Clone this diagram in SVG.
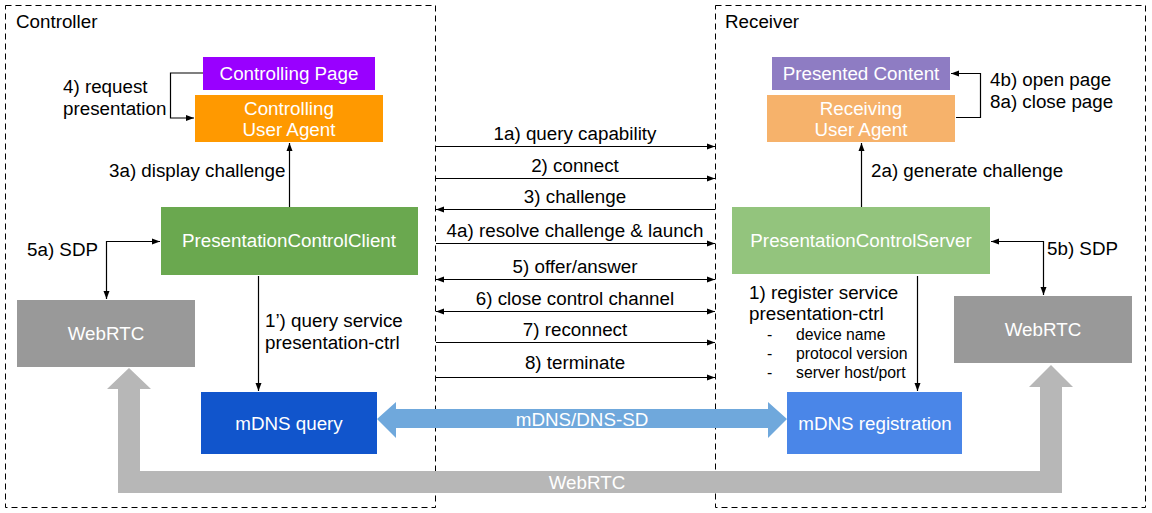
<svg xmlns="http://www.w3.org/2000/svg" width="1152" height="513" viewBox="0 0 1152 513">
<style>
text{font-family:"Liberation Sans",Arial,sans-serif;font-size:18.8px;fill:#000}
.w{fill:#fff}
.c{text-anchor:middle}
.s{font-size:15.8px}
.ln{fill:none;stroke:#000;stroke-width:1.2}
.box{fill:none;stroke:#000;stroke-width:1;stroke-dasharray:6,4}
</style>
<defs>
<marker id="ah" viewBox="0 0 8 8" refX="8" refY="4" markerWidth="8" markerHeight="8" markerUnits="userSpaceOnUse" orient="auto-start-reverse">
<path d="M0,1 L8,4 L0,7 Z" fill="#000"/>
</marker>
</defs>
<rect fill="#fff" width="1152" height="513"/>
<g id="controller">
<rect class="box" x="5.5" y="5.5" width="430" height="502"/>
<text x="16" y="28">Controller</text>
</g>
<g id="receiver">
<rect class="box" x="715.5" y="5.5" width="430" height="502"/>
<text x="725" y="28">Receiver</text>
</g>
<g id="webrtc-bar">
<path d="M118,389 L107,389 L129,368 L151,389 L140,389 L140,471 L1040,471 L1040,387 L1029,387 L1051,365 L1073,387 L1062,387 L1062,493 L118,493 Z" fill="#b7b7b7"/>
<text class="w c" x="587" y="489">WebRTC</text>
</g>
<g id="mdns-arrow">
<path d="M377,419 L396,402 L396,409 L768,409 L768,402 L787,419 L768,438 L768,428 L396,428 L396,438 Z" fill="#6fa8dc"/>
<text class="w c" x="582" y="426">mDNS/DNS-SD</text>
</g>
<g id="controlling-page">
<rect x="203" y="57" width="172" height="33" fill="#9900ff"/>
<text class="w c" x="289" y="80">Controlling Page</text>
</g>
<g id="controlling-ua">
<rect x="195" y="95" width="188" height="47" fill="#ff9900"/>
<text class="w c" x="289" y="115">Controlling</text>
<text class="w c" x="289" y="136">User Agent</text>
</g>
<g id="pcc">
<rect x="161" y="207" width="257" height="68" fill="#6aa84f"/>
<text class="w c" x="289" y="247">PresentationControlClient</text>
</g>
<g id="webrtc-left">
<rect x="17" y="300" width="178" height="67" fill="#999999"/>
<text class="w c" x="106" y="340">WebRTC</text>
</g>
<g id="mdns-query">
<rect x="201" y="392" width="176" height="62" fill="#1155cc"/>
<text class="w c" x="289" y="430">mDNS query</text>
</g>
<g id="presented-content">
<rect x="772" y="57" width="178" height="33" fill="#8e7cc3"/>
<text class="w c" x="861" y="80">Presented Content</text>
</g>
<g id="receiving-ua">
<rect x="767" y="95" width="188" height="47" fill="#f6b26b"/>
<text class="w c" x="861" y="115">Receiving</text>
<text class="w c" x="861" y="136">User Agent</text>
</g>
<g id="pcs">
<rect x="732" y="207" width="258" height="67" fill="#93c47d"/>
<text class="w c" x="861" y="247">PresentationControlServer</text>
</g>
<g id="webrtc-right">
<rect x="954" y="296" width="178" height="67" fill="#999999"/>
<text class="w c" x="1043" y="336">WebRTC</text>
</g>
<g id="mdns-registration">
<rect x="787" y="392" width="175" height="62" fill="#4a86e8"/>
<text class="w c" x="875" y="430">mDNS registration</text>
</g>
<g id="connectors">
<path class="ln" d="M203,73 H170.5 V118 H194" marker-end="url(#ah)"/>
<path class="ln" d="M289.5,207 V143" marker-end="url(#ah)"/>
<path class="ln" d="M160,241.5 H106.5 V299" marker-start="url(#ah)" marker-end="url(#ah)"/>
<path class="ln" d="M258.5,276 V391" marker-end="url(#ah)"/>
<path class="ln" d="M956,117.5 H980.5 V73.5 H951" marker-end="url(#ah)"/>
<path class="ln" d="M861.5,207 V143" marker-end="url(#ah)"/>
<path class="ln" d="M991,241.5 H1043.5 V295" marker-start="url(#ah)" marker-end="url(#ah)"/>
<path class="ln" d="M917.5,276 V391" marker-end="url(#ah)"/>
<path class="ln" d="M436,146.5 H715" marker-end="url(#ah)"/>
<path class="ln" d="M436,178.5 H715" marker-end="url(#ah)"/>
<path class="ln" d="M715,209.5 H436" marker-end="url(#ah)"/>
<path class="ln" d="M436,243.5 H715" marker-end="url(#ah)"/>
<path class="ln" d="M436,279.5 H715" marker-start="url(#ah)" marker-end="url(#ah)"/>
<path class="ln" d="M436,311.5 H715" marker-start="url(#ah)" marker-end="url(#ah)"/>
<path class="ln" d="M436,342.5 H715" marker-end="url(#ah)"/>
<path class="ln" d="M436,377.5 H715" marker-end="url(#ah)"/>
</g>
<g id="labels">
<text x="63" y="93">4) request</text>
<text x="63" y="115">presentation</text>
<text x="109" y="177">3a) display challenge</text>
<text x="27" y="256">5a) SDP</text>
<text x="265" y="327">1’) query service</text>
<text x="265" y="349">presentation-ctrl</text>
<text x="990" y="86">4b) open page</text>
<text x="990" y="108">8a) close page</text>
<text x="871" y="177">2a) generate challenge</text>
<text x="1047" y="255">5b) SDP</text>
<text x="749" y="299">1) register service</text>
<text x="749" y="320">presentation-ctrl</text>
<text class="s" x="767" y="340">-</text>
<text class="s" x="796" y="340">device name</text>
<text class="s" x="767" y="359">-</text>
<text class="s" x="796" y="359">protocol version</text>
<text class="s" x="767" y="378">-</text>
<text class="s" x="796" y="378">server host/port</text>
<text class="c" x="575" y="140">1a) query capability</text>
<text class="c" x="575" y="172">2) connect</text>
<text class="c" x="575" y="203">3) challenge</text>
<text class="c" x="575" y="237">4a) resolve challenge &amp; launch</text>
<text class="c" x="575" y="273">5) offer/answer</text>
<text class="c" x="575" y="305">6) close control channel</text>
<text class="c" x="575" y="336">7) reconnect</text>
<text class="c" x="575" y="369">8) terminate</text>
</g>
</svg>
